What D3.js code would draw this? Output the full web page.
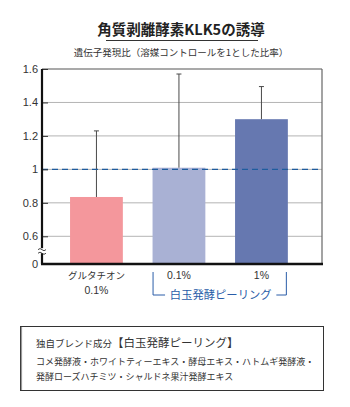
<!DOCTYPE html>
<html>
<head>
<meta charset="utf-8">
<script src="https://cdn.jsdelivr.net/npm/d3@7"></script>
<style>
  body { margin: 0; background: #fff; }
  svg { display: block; }
  text { font-family: "Noto Sans CJK JP", "Noto Sans", sans-serif; fill: #333; }
  .num { font-family: "Liberation Sans", Arial, sans-serif; }
</style>
</head>
<body>
<div id="chart"></div>
<script>
// data
const categories = ['グルタチオン', '白玉0.1%', '白玉1%'];
const xLabels = [['グルタチオン', '0.1%'], ['0.1%'], ['1%']];
const values = [0.835, 1.01, 1.30];
const errorTops = [1.23, 1.57, 1.495];
const yTicks = [0, 0.6, 0.8, 1, 1.2, 1.4, 1.6];
const refLine = 1;

const W = 350, H = 407;
const plot = { left: 42, right: 322, top: 69, bottom: 264 };

const svg = d3.select('#chart').append('svg')
  .attr('width', W)
  .attr('height', H);

// title
svg.append('text')
  .attr('x', 181).attr('y', 35)
  .attr('text-anchor', 'middle')
  .style('font-size', '14.5px')
  .style('font-weight', 700)
  .style('fill', '#222')
  .text('角質剥離酵素KLK5の誘導');
svg.append('line')
  .attr('x1', 106).attr('x2', 258)
  .attr('y1', 40.5).attr('y2', 40.5)
  .attr('stroke', '#333').attr('stroke-width', 1);
svg.append('text')
  .attr('x', 181).attr('y', 56)
  .attr('text-anchor', 'middle')
  .style('font-size', '9.5px')
  .text('遺伝子発現比（溶媒コントロールを1とした比率）');

// broken axis: 0 sits just below 0.6
const y = d3.scaleLinear()
  .domain([0, 0.6, 1.6])
  .range([plot.bottom, 236.3, plot.top]);

const x = d3.scaleBand()
  .domain(categories)
  .range([55.2, 302.7])
  .paddingInner(0.36)
  .paddingOuter(0.18);

const color = d3.scaleOrdinal()
  .domain(categories)
  .range(['#f4979c', '#a9b1d4', '#6678b0']);

// gridlines
svg.append('g')
  .selectAll('line')
  .data(yTicks.filter(d => d > 0 && d < 1.6))
  .join('line')
  .attr('x1', plot.left).attr('x2', plot.right)
  .attr('y1', d => y(d)).attr('y2', d => y(d))
  .attr('stroke', '#b4b4b4').attr('stroke-width', 1);

// frame top / right
svg.append('line')
  .attr('x1', plot.left).attr('x2', plot.right)
  .attr('y1', plot.top).attr('y2', plot.top)
  .attr('stroke', '#555').attr('stroke-width', 1.2);
svg.append('line')
  .attr('x1', plot.right).attr('x2', plot.right)
  .attr('y1', plot.top).attr('y2', plot.bottom)
  .attr('stroke', '#666').attr('stroke-width', 1.2);

// bars
svg.append('g')
  .selectAll('rect')
  .data(categories)
  .join('rect')
  .attr('x', d => x(d))
  .attr('width', x.bandwidth())
  .attr('y', (d, i) => y(values[i]))
  .attr('height', (d, i) => plot.bottom - y(values[i]))
  .attr('fill', d => color(d));

// error bars (upper only)
const err = svg.append('g')
  .attr('stroke', '#4a4a4a')
  .attr('stroke-width', 1);
categories.forEach((c, i) => {
  const cx = x(c) + x.bandwidth() / 2;
  err.append('line')
    .attr('x1', cx).attr('x2', cx)
    .attr('y1', y(values[i])).attr('y2', y(errorTops[i]));
  err.append('line')
    .attr('x1', cx - 2.5).attr('x2', cx + 2.5)
    .attr('y1', y(errorTops[i])).attr('y2', y(errorTops[i]));
});

// dashed reference line at 1
svg.append('line')
  .attr('x1', plot.left).attr('x2', plot.right)
  .attr('y1', y(refLine)).attr('y2', y(refLine))
  .attr('stroke', '#1f5c9e')
  .attr('stroke-width', 1.4)
  .attr('stroke-dasharray', '6,4');

// y axis
const yAxis = svg.append('g')
  .attr('transform', `translate(${plot.left},0)`)
  .call(d3.axisRight(y).tickValues(yTicks).tickSize(6).tickFormat(d3.format('')));
yAxis.select('.domain').remove();
yAxis.selectAll('.tick line').attr('stroke', '#333');
yAxis.selectAll('.tick text')
  .attr('class', 'num')
  .attr('x', -4)
  .attr('text-anchor', 'end')
  .style('font-size', '11px')
  .style('fill', '#333');

svg.append('line')
  .attr('x1', plot.left).attr('x2', plot.left)
  .attr('y1', plot.top).attr('y2', plot.bottom)
  .attr('stroke', '#111').attr('stroke-width', 2.2);
svg.append('line')
  .attr('x1', plot.left - 1).attr('x2', plot.right + 1)
  .attr('y1', plot.bottom).attr('y2', plot.bottom)
  .attr('stroke', '#111').attr('stroke-width', 2.6);

// break mark
const by = (y(0) + y(0.6)) / 2 + 0.5;
svg.append('rect')
  .attr('x', plot.left - 3).attr('y', by - 2.5)
  .attr('width', 6).attr('height', 5)
  .attr('fill', '#fff');
[-1.8, 1.8].forEach(o => {
  svg.append('path')
    .attr('d', `M${plot.left - 4},${by + o + 0.8} q2,-2.2 4,0 t4,0`)
    .attr('fill', 'none')
    .attr('stroke', '#333')
    .attr('stroke-width', 0.9);
});

// x labels
categories.forEach((c, i) => {
  const cx = x(c) + x.bandwidth() / 2;
  xLabels[i].forEach((t, j) => {
    svg.append('text')
      .attr('class', j === 0 && i === 0 ? null : 'num')
      .attr('x', cx).attr('y', 279 + j * 15)
      .attr('text-anchor', 'middle')
      .style('font-size', j === 0 && i === 0 ? '9.5px' : '10.5px')
      .text(t);
  });
});

// bracket for the peeling group
const bx1 = x(categories[1]) + 0.5, bx2 = x(categories[2]) + x.bandwidth() - 1.5;
const blue = '#2a5da8';
svg.append('path')
  .attr('d', `M${bx1},272 V295 H${bx1 + 12}`)
  .attr('fill', 'none').attr('stroke', blue).attr('stroke-width', 1);
svg.append('path')
  .attr('d', `M${bx2 - 10},295 H${bx2} V272`)
  .attr('fill', 'none').attr('stroke', blue).attr('stroke-width', 1);
svg.append('text')
  .attr('x', (bx1 + bx2) / 2 + 1).attr('y', 299)
  .attr('text-anchor', 'middle')
  .style('font-size', '11.3px')
  .style('fill', blue)
  .text('白玉発酵ピーリング');

// ingredient box
svg.append('rect')
  .attr('x', 20.5).attr('y', 326.5)
  .attr('width', 303).attr('height', 64)
  .attr('fill', 'none')
  .attr('stroke', '#333').attr('stroke-width', 1);
svg.append('line')
  .attr('x1', 21.5).attr('x2', 21.5)
  .attr('y1', 327).attr('y2', 390)
  .attr('stroke', '#999').attr('stroke-width', 1.2);

const t1 = svg.append('text')
  .attr('x', 36).attr('y', 347);
t1.append('tspan').style('font-size', '9.5px').text('独自ブレンド成分');
t1.append('tspan').style('font-size', '11.5px').text('【白玉発酵ピーリング】');

svg.append('text')
  .attr('x', 36).attr('y', 365)
  .style('font-size', '9px')
  .text('コメ発酵液・ホワイトティーエキス・酵母エキス・ハトムギ発酵液・');
svg.append('text')
  .attr('x', 36).attr('y', 380)
  .style('font-size', '9px')
  .text('発酵ローズハチミツ・シャルドネ果汁発酵エキス');
</script>
</body>
</html>
